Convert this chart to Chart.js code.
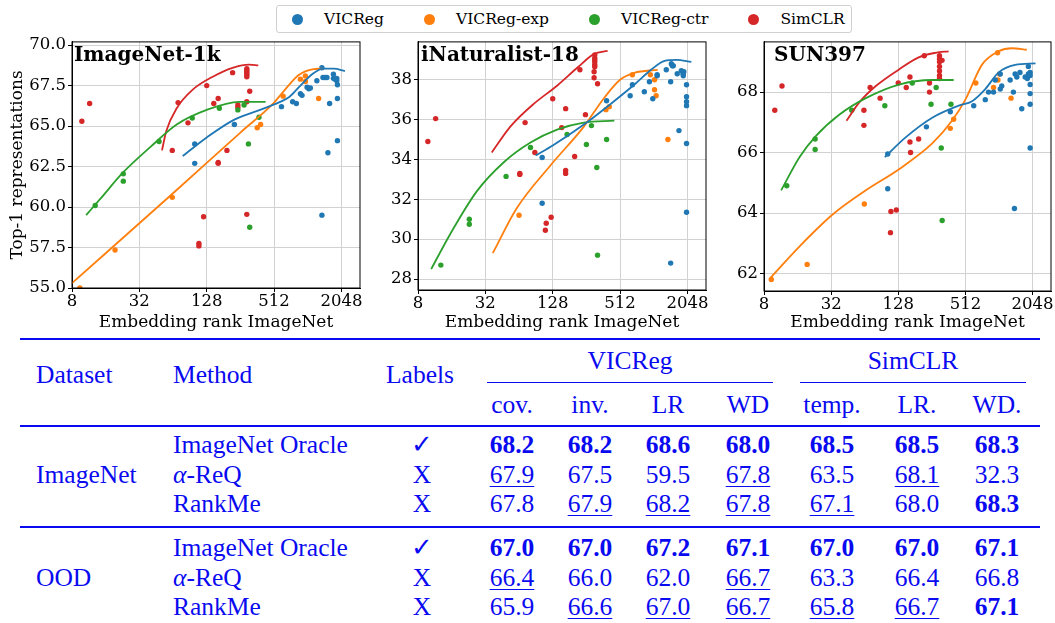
<!DOCTYPE html>
<html>
<head>
<meta charset="utf-8">
<script src="https://cdn.jsdelivr.net/npm/chart.js@4.4.1/dist/chart.umd.min.js"></script>
<style>
  body { margin: 0; background: #fff; }
  #page { position: relative; width: 1055px; height: 623px; overflow: hidden; font-family: 'DejaVu Serif', serif; }
  .panel { position: absolute; }
  #legend {
    position: absolute; left: 276px; top: 5px; height: 26px;
    border: 1px solid #d0d0d0; border-radius: 3px; padding: 0 6px 0 15px;
    display: flex; align-items: center; font-size: 15.5px; color: #000; white-space: nowrap;
  }
  #legend .item { display: flex; align-items: center; margin-right: 40px; flex-shrink: 0; }
  #legend .item:last-child { margin-right: 0; }
  #legend .dot { width: 11px; height: 11px; border-radius: 50%; margin-right: 21px; }
  .tt {
    position: absolute; white-space: nowrap; color: #0a0af0;
    font-family: 'Liberation Serif', 'Times New Roman', serif;
    font-size: 25.5px; line-height: 25.5px;
  }
  .tt.c { transform: translateX(-50%); }
  .tt.b { font-weight: bold; }
  .tt.u { text-decoration: underline; text-decoration-thickness: 1.3px; text-underline-offset: 3px; }
  .rule { position: absolute; background: #0a0af0; }
</style>
</head>
<body>
<div id="page">
  <div id="legend"></div>
  <div class="panel" style="left:0px;top:30px;width:365px;height:310px"><canvas id="inetChart"></canvas></div>
  <div class="panel" style="left:365px;top:30px;width:345px;height:310px"><canvas id="inatChart"></canvas></div>
  <div class="panel" style="left:710px;top:30px;width:345px;height:310px"><canvas id="sunChart"></canvas></div>
  <div id="table"></div>
</div>
<script>
const seriesNames = ['VICReg', 'VICReg-exp', 'VICReg-ctr', 'SimCLR'];
const seriesColors = ['#1f77b4', '#ff7f0e', '#2ca02c', '#d62728'];
const rankTicks = [8, 32, 128, 512, 2048];

// ImageNet-1k panel: [embedding rank, top-1]
const inetVicreg = [[100,63.9],[100,62.7],[226,65.1],[596,66.2],[750,66.5],[810,66.4],[880,67.0],[910,66.9],[1010,67.4],[1045,67.3],[1080,67.35],[1235,67.8],[1370,68.6],[1400,68.0],[1460,68.0],[1520,68.0],[1735,68.2],[1735,67.95],[1795,67.9],[1860,67.95],[1860,67.8],[1885,67.55],[1885,66.7],[1885,64.1],[1550,63.35],[1605,66.4],[1370,59.5]];
const inetExp = [[9.4,55.0],[19.4,57.35],[63,60.6],[362,64.9],[388,65.1],[617,66.85],[880,67.9],[975,68.1],[975,67.75],[1280,66.7]];
const inetCtr = [[12.9,60.1],[23,62.05],[23,61.6],[48,64.05],[95,65.5],[166,66.1],[243,66.0],[276,66.3],[375,65.55],[302,63.9],[310,58.75]];
const inetSim = [[9.8,65.3],[11.5,66.4],[63,63.5],[71,66.45],[87,65.2],[120,59.4],[109,57.6],[109,57.75],[128,67.5],[148,66.4],[162,66.7],[162,62.75],[162,62.7],[194,63.5],[218,68.3],[243,66.3],[243,66.15],[292,68.55],[292,68.45],[292,68.35],[292,68.25],[292,68.15],[292,68.05],[292,66.5],[292,59.55],[310,67.15]];
const inetVicregFit = [[78,63.15],[128,64.3],[226,65.4],[400,66.05],[560,66.45],[700,66.8],[880,67.5],[1120,68.2],[1400,68.55],[1750,68.55],[2200,68.4]];
const inetExpFit = [[8,55.3],[64,60.85],[256,64.6],[512,66.45],[650,67.3],[850,68.15],[1120,68.5],[1400,68.55]];
const inetCtrFit = [[10.7,59.5],[14.3,60.5],[23,62.15],[40,63.7],[69,65.1],[128,66.0],[249,66.5],[430,66.5]];
const inetSimFit = [[51,63.5],[55.7,64.7],[69,66.1],[96,67.25],[145,68.05],[218,68.6],[307,68.8],[370,68.75]];
const inetTicks = [55.0, 57.5, 60.0, 62.5, 65.0, 67.5, 70.0];

// iNaturalist-18 panel
const inatVicreg = [[103,34.1],[103,31.8],[388,36.95],[630,37.2],[660,37.75],[843,37.4],[936,37.9],[1003,37.05],[1098,38.2],[1098,38.25],[1325,38.5],[1450,37.9],[1470,38.8],[1500,38.7],[1530,38.7],[1660,38.3],[1805,38.45],[1870,38.3],[1900,38.4],[1880,38.2],[1720,35.45],[2010,37.75],[2010,37.15],[2010,36.9],[2010,36.7],[2010,34.8],[2010,31.35],[1450,28.8]];
const inatExp = [[64,31.2],[383,36.5],[410,36.65],[660,38.25],[955,38.25],[1040,38.0],[1040,37.5],[1075,37.2],[1370,35.0]];
const inatCtr = [[12.8,28.7],[23,31.0],[23,30.75],[49,33.15],[81,34.6],[172,35.25],[256,34.75],[284,35.7],[317,33.6],[388,35.0],[322,29.2]];
const inatSim = [[9.8,34.9],[11.5,36.05],[72.5,35.85],[88.6,34.35],[65,33.3],[65,33.25],[110,30.45],[112,30.8],[124,31.1],[128,37.05],[154,35.6],[167,36.55],[167,33.45],[167,33.3],[201,34.15],[224,38.5],[251,36.25],[300,38.4],[300,38.1],[304,39.25],[304,39.1],[304,39.0],[304,38.9],[304,38.75],[304,38.65],[322,37.8]];
const inatVicregFit = [[90,34.2],[128,34.7],[243,35.75],[424,36.8],[685,37.75],[968,38.5],[1280,38.95],[1630,39.0],[2220,38.9]];
const inatExpFit = [[37.3,29.3],[61,31.55],[122,33.7],[243,35.65],[370,37.1],[512,38.0],[685,38.35],[1110,38.5]];
const inatCtrFit = [[10.5,28.5],[15.5,30.25],[26.8,32.4],[46.5,33.85],[81,34.85],[140,35.5],[243,35.85],[455,35.95]];
const inatSimFit = [[36.5,34.35],[53.5,35.65],[87,36.8],[140,37.7],[212,38.6],[300,39.3],[396,39.45]];
const inatTicks = [28, 30, 32, 34, 36, 38];

// SUN397 panel
const sunVicreg = [[103,65.95],[103,64.8],[229,66.85],[375,67.35],[608,67.55],[772,67.75],[826,68.0],[916,68.0],[948,68.4],[1052,68.1],[1085,68.2],[1052,68.6],[1290,68.4],[1380,68.0],[1430,68.6],[1480,68.5],[1580,68.65],[1640,67.45],[1760,68.5],[1840,68.45],[1880,68.6],[1880,68.85],[1950,68.65],[1950,68.55],[1950,68.25],[1950,67.95],[1950,67.6],[1950,66.15],[1410,64.15]];
const sunExp = [[9.3,61.8],[19.5,62.3],[63.5,64.3],[375,66.8],[402,67.1],[635,68.3],[916,68.15],[1003,68.4],[1037,68.6],[996,69.3],[1315,67.8]];
const sunCtr = [[12.8,64.9],[23,66.45],[23,66.1],[49,67.4],[97,67.55],[171,68.3],[252,67.6],[280,68.15],[311,66.15],[380,67.6],[317,63.75]];
const sunSim = [[10,67.4],[11.6,68.2],[63,67.4],[63,66.9],[71.6,68.15],[88,67.8],[109,63.35],[110,64.05],[123,64.1],[128,68.3],[151,68.15],[163,68.5],[163,66.35],[165,66.0],[195,66.45],[219,69.2],[244,68.3],[244,68.0],[300,69.2],[300,69.1],[300,69.0],[300,68.85],[300,68.7],[300,68.55],[300,68.45],[316,69.05]];
const sunVicregFit = [[97,65.85],[149,66.5],[258,67.15],[446,67.55],[588,67.7],[772,68.1],[1017,68.65],[1430,68.9],[2180,68.95]];
const sunExpFit = [[9.1,61.85],[16.7,62.9],[33,63.95],[65.5,64.75],[130,65.45],[258,66.3],[388,67.05],[512,67.75],[720,68.9],[1017,69.35],[1335,69.45],[1820,69.4]];
const sunCtrFit = [[11.4,64.75],[16.7,65.85],[23.4,66.55],[37.8,67.25],[65.5,67.8],[130,68.25],[258,68.4],[402,68.4]];
const sunSimFit = [[44,67.05],[57,67.65],[80.5,68.2],[130,68.75],[195,69.15],[276,69.3],[362,69.35]];
const sunTicks = [62, 64, 66, 68];

// table
const methodGroups = ['VICReg', 'SimCLR'];
const hyperParams = ['cov.', 'inv.', 'LR', 'WD', 'temp.', 'LR.', 'WD.'];
const methods = ['ImageNet Oracle', 'α-ReQ', 'RankMe'];
const usesLabels = ['✓', 'X', 'X'];
const imagenetOracle = [68.2, 68.2, 68.6, 68.0, 68.5, 68.5, 68.3];
const imagenetAlphaReq = [67.9, 67.5, 59.5, 67.8, 63.5, 68.1, 32.3];
const imagenetRankMe = [67.8, 67.9, 68.2, 67.8, 67.1, 68.0, 68.3];
const oodOracle = [67.0, 67.0, 67.2, 67.1, 67.0, 67.0, 67.1];
const oodAlphaReq = [66.4, 66.0, 62.0, 66.7, 63.3, 66.4, 66.8];
const oodRankMe = [65.9, 66.6, 67.0, 66.7, 65.8, 66.7, 67.1];
// b = bold, u = underline
const imagenetStyle = [['b','b','b','b','b','b','b'], ['u','','','u','','u',''], ['','u','u','u','u','','b']];
const oodStyle = [['b','b','b','b','b','b','b'], ['u','','','u','','',''], ['','u','u','u','u','u','b']];

const FONT = "'DejaVu Serif', serif";

const framePlugin = {
    id: 'frame',
    afterDraw(chart, args, opts) {
        const { ctx, chartArea } = chart;
        ctx.save();
        ctx.strokeStyle = '#000';
        ctx.lineWidth = 1;
        ctx.strokeRect(chartArea.left, chartArea.top, chartArea.right - chartArea.left, chartArea.bottom - chartArea.top);
        ctx.fillStyle = '#000';
        ctx.font = 'bold 20px ' + FONT;
        ctx.textBaseline = 'top';
        ctx.fillText(opts.text, chartArea.left + opts.dx, chartArea.top + opts.dy);
        ctx.restore();
    }
};

function renderPanel(id, cfg) {
    const datasets = [];
    cfg.fits.forEach((fit, i) => {
        datasets.push({
            label: seriesNames[i] + ' fit',
            data: fit.map(([x, y]) => ({ x, y })),
            showLine: true,
            borderColor: seriesColors[i],
            borderWidth: 1.8,
            pointRadius: 0,
            cubicInterpolationMode: 'monotone',
            order: 0,
        });
    });
    cfg.points.forEach((pts, i) => {
        datasets.push({
            label: seriesNames[i],
            data: pts.map(([x, y]) => ({ x, y })),
            backgroundColor: seriesColors[i],
            borderWidth: 0,
            pointRadius: 2.7,
            order: 1,
        });
    });

    return new Chart(document.getElementById(id), {
        type: 'scatter',
        data: { datasets },
        options: {
            responsive: true,
            maintainAspectRatio: false,
            animation: false,
            layout: { padding: { top: cfg.padTop, right: cfg.padRight, left: 0, bottom: 0 } },
            plugins: {
                legend: { display: false },
                tooltip: { enabled: false },
                frame: { text: cfg.title, dx: cfg.titleDx, dy: 4 },
            },
            scales: {
                x: {
                    type: 'logarithmic',
                    min: 8,
                    max: 3000,
                    afterBuildTicks: axis => { axis.ticks = rankTicks.map(v => ({ value: v })); },
                    afterFit: axis => { axis.height = cfg.xHeight; },
                    ticks: { callback: v => String(v), color: '#000', font: { family: FONT, size: 16.5 }, padding: 0, maxRotation: 0, autoSkip: false },
                    grid: { color: '#d2d2d2', tickColor: '#000', tickLength: 4 },
                    border: { color: '#000' },
                    title: { display: true, text: 'Embedding rank ImageNet', color: '#000', font: { family: FONT, size: 17 }, padding: { top: 0, bottom: 7 } },
                },
                y: {
                    type: 'linear',
                    min: cfg.yMin,
                    max: cfg.yMax,
                    afterBuildTicks: axis => { axis.ticks = cfg.yTicks.map(v => ({ value: v })); },
                    afterFit: axis => { axis.width = cfg.yWidth; },
                    ticks: { callback: v => v.toFixed(cfg.decimals), color: '#000', font: { family: FONT, size: 16.5 }, padding: 2 },
                    grid: { color: '#d2d2d2', tickColor: '#000', tickLength: 4 },
                    border: { color: '#000' },
                    title: { display: !!cfg.yTitle, text: cfg.yTitle || '', color: '#000', font: { family: FONT, size: 17 }, padding: { top: 7, bottom: 0 } },
                },
            },
        },
        plugins: [framePlugin],
    });
}

renderPanel('inetChart', {
    title: 'ImageNet-1k', titleDx: 2,
    points: [inetVicreg, inetExp, inetCtr, inetSim],
    fits: [inetVicregFit, inetExpFit, inetCtrFit, inetSimFit],
    yMin: 55, yMax: 70.2, yTicks: inetTicks, decimals: 1,
    yTitle: 'Top-1 representations',
    yWidth: 72, xHeight: 52, padTop: 5, padRight: 5,
});
renderPanel('inatChart', {
    title: 'iNaturalist-18', titleDx: 3,
    points: [inatVicreg, inatExp, inatCtr, inatSim],
    fits: [inatVicregFit, inatExpFit, inatCtrFit, inatSimFit],
    yMin: 27.45, yMax: 39.9, yTicks: inatTicks, decimals: 0,
    yWidth: 53, xHeight: 50, padTop: 6, padRight: 3,
});
renderPanel('sunChart', {
    title: 'SUN397', titleDx: 10,
    points: [sunVicreg, sunExp, sunCtr, sunSim],
    fits: [sunVicregFit, sunExpFit, sunCtrFit, sunSimFit],
    yMin: 61.42, yMax: 69.66, yTicks: sunTicks, decimals: 0,
    yWidth: 54, xHeight: 49, padTop: 6, padRight: 2,
});

// shared legend
const legend = document.getElementById('legend');
seriesNames.forEach((name, i) => {
    const item = document.createElement('div');
    item.className = 'item';
    item.innerHTML = `<span class="dot" style="background:${seriesColors[i]}"></span><span>${name}</span>`;
    legend.appendChild(item);
});

// table below the plots
const table = document.getElementById('table');
const colX = [512, 590, 668, 748, 832, 917, 997];

function addText(text, x, baseline, cls) {
    const el = document.createElement('div');
    el.className = 'tt ' + (cls || '');
    el.style.left = x + 'px';
    el.style.top = (baseline - 23.5) + 'px';
    el.innerHTML = text;
    table.appendChild(el);
}
function addRule(x1, x2, y, h) {
    const el = document.createElement('div');
    el.className = 'rule';
    el.style.left = x1 + 'px';
    el.style.width = (x2 - x1) + 'px';
    el.style.top = y + 'px';
    el.style.height = h + 'px';
    table.appendChild(el);
}

addRule(20, 1040, 338, 2);
addText('Dataset', 36, 385);
addText('Method', 173, 385);
addText('Labels', 386, 385);
addText(methodGroups[0], 630, 371, 'c');
addText(methodGroups[1], 913, 371, 'c');
addRule(487, 773, 382, 1.2);
addRule(800, 1026, 382, 1.2);
hyperParams.forEach((p, j) => addText(p, colX[j], 415, 'c'));
addRule(20, 1040, 425, 1.5);

function addBlock(name, rows, styles, baselines) {
    addText(name, 36, baselines[1]);
    rows.forEach((vals, r) => {
        addText(methods[r].replace('α', '<i>α</i>'), 173, baselines[r]);
        addText(usesLabels[r], 422, baselines[r], 'c');
        vals.forEach((v, j) => addText(v.toFixed(1), colX[j], baselines[r], 'c ' + styles[r][j]));
    });
}
addBlock('ImageNet', [imagenetOracle, imagenetAlphaReq, imagenetRankMe], imagenetStyle, [455, 485, 514]);
addRule(20, 1040, 526, 1.5);
addBlock('OOD', [oodOracle, oodAlphaReq, oodRankMe], oodStyle, [558, 588, 617]);
</script>
</body>
</html>
